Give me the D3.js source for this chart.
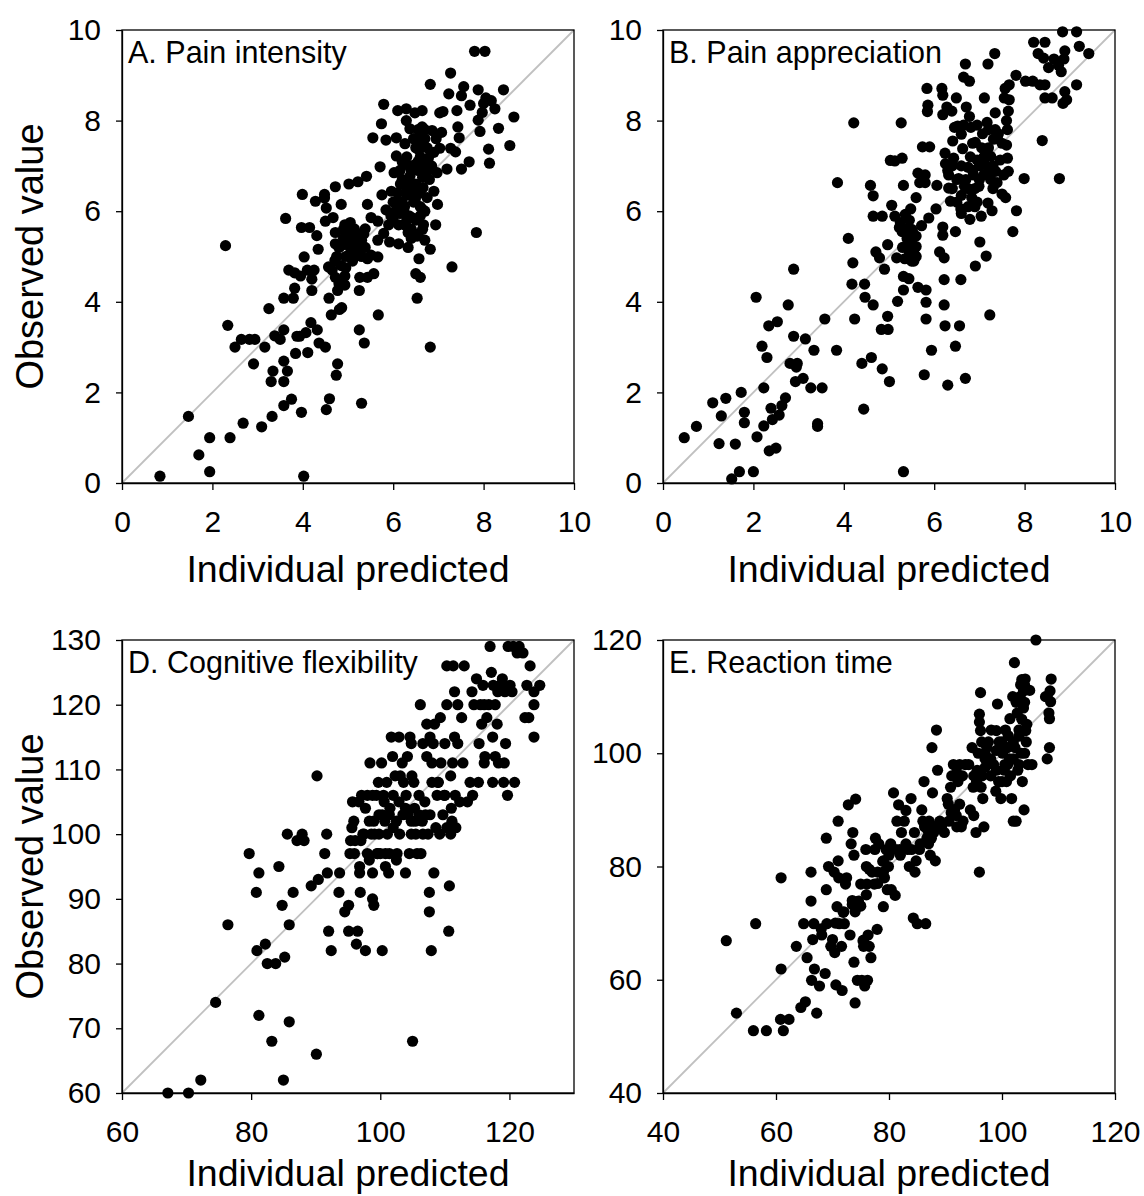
<!DOCTYPE html>
<html>
<head>
<meta charset="utf-8">
<script src="https://cdn.jsdelivr.net/npm/d3@7"></script>
<style>
  html, body { margin: 0; padding: 0; background: #fff; }
  svg text { font-family: "Liberation Sans", Arial, sans-serif; fill: #000; }
</style>
</head>
<body>
<svg id="chart" width="1144" height="1196"></svg>
<script>
// ---------------- DATA ----------------
const titles = ["A. Pain intensity", "B. Pain appreciation", "D. Cognitive flexibility", "E. Reaction time"];
const xAxisTitle = "Individual predicted";
const yAxisTitle = "Observed value";

const domainA = [0, 10], domainB = [0, 10], domainD = [60, 130], domainE = [40, 120];
const xTicksA = [0, 2, 4, 6, 8, 10], yTicksA = [0, 2, 4, 6, 8, 10];
const xTicksB = [0, 2, 4, 6, 8, 10], yTicksB = [0, 2, 4, 6, 8, 10];
const xTicksD = [60, 80, 100, 120], yTicksD = [60, 70, 80, 90, 100, 110, 120, 130];
const xTicksE = [40, 60, 80, 100, 120], yTicksE = [40, 60, 80, 100, 120];

// [individual predicted, observed]
const painIntensity = [
[0.84,0.15],[1.47,1.47],[1.70,0.62],[1.94,1.0],[1.94,0.25],[2.39,1.0],[2.29,5.24],[2.34,3.48],[2.5,3.0],[2.64,3.17],
[2.68,1.32],[2.82,3.17],[2.94,3.17],[2.91,2.63],[3.09,1.24],[3.16,3.0],[3.25,3.85],[3.34,2.47],[3.3,2.24],[3.32,1.47],
[3.38,3.25],[3.5,3.17],[3.58,3.38],[3.58,2.69],[3.58,2.24],[3.58,1.71],[3.66,2.47],[3.75,1.85],[3.62,5.84],[3.58,4.08],
[3.69,4.7],[3.82,4.3],[3.82,4.64],[3.79,4.08],[3.84,2.86],[3.87,3.24],[3.97,1.56],[3.99,6.37],[3.97,5.64],[4.03,4.99],
[4.02,0.15],[3.95,4.57],[3.93,3.24],[4.07,3.32],[4.11,2.88],[4.15,5.64],[4.1,4.7],[4.2,4.25],[4.2,4.5],[4.25,4.7],
[4.18,3.54],[4.31,5.46],[4.34,5.16],[4.28,6.22],[4.32,3.38],[4.36,3.09],[4.48,6.29],[4.5,3.0],[4.52,6.07],[4.5,5.78],
[4.48,6.37],[4.52,1.62],[4.59,1.86],[4.57,4.77],[4.58,4.08],[4.63,3.71],[4.67,5.86],[4.72,6.54],[4.72,5.53],[4.72,5.28],
[4.71,4.91],[4.72,4.54],[4.77,4.25],[4.77,2.63],[4.74,2.38],[4.81,3.83],[4.85,6.15],[4.86,3.87],[4.93,4.57],[4.93,4.37],
[4.85,5.24],[4.93,5.7],[4.98,5.36],[5.02,5.03],[5.02,6.6],[5.06,5.53],[5.1,4.95],[5.1,5.36],[5.14,5.61],[5.18,5.21],
[5.22,6.65],[5.25,4.25],[5.25,3.38],[5.26,4.54],[5.3,1.76],[5.36,3.09],[5.3,5.36],[5.38,5.2],[5.38,5.61],[5.41,6.77],
[5.43,6.15],[5.43,4.95],[5.43,4.54],[5.51,5.86],[5.51,5.03],[5.57,4.62],[5.55,7.62],[5.66,5.36],[5.66,4.99],[5.67,3.71],
[5.66,5.78],[5.71,6.98],[5.74,7.93],[5.75,6.36],[5.79,8.36],[5.84,7.57],[5.79,5.51],[5.84,6.03],[5.92,5.32],[5.96,6.44],
[6.0,5.86],[6.02,6.85],[6.07,7.22],[6.07,7.62],[6.1,8.22],[6.08,6.19],[6.12,5.7],[6.12,5.28],[6.16,6.6],[6.2,7.09],
[6.23,6.03],[6.26,7.49],[6.29,8.26],[6.29,8.0],[6.31,6.36],[6.33,5.53],[6.37,7.82],[6.37,6.77],[6.33,5.2],[6.41,5.86],
[6.45,7.01],[6.48,8.17],[6.49,6.27],[6.53,5.45],[6.57,7.35],[6.57,4.95],[6.6,4.54],[6.53,4.08],[6.5,4.62],[6.64,7.86],
[6.64,8.22],[6.66,6.52],[6.66,6.03],[6.67,5.7],[6.7,5.36],[6.74,6.85],[6.78,7.18],[6.82,8.8],[6.82,5.16],[6.82,3.0],
[6.86,7.78],[6.9,6.44],[6.94,5.7],[6.97,6.85],[6.98,6.15],[7.03,8.17],[7.03,7.39],[7.07,7.74],[7.19,6.93],[7.23,8.59],
[7.27,9.05],[7.27,7.39],[7.3,4.77],[7.38,7.31],[7.41,8.22],[7.43,7.86],[7.46,7.62],[7.51,6.93],[7.51,8.55],[7.56,8.75],
[7.68,7.09],[7.7,8.34],[7.84,5.53],[7.8,9.53],[8.03,9.53],[7.88,8.68],[7.88,8.01],[7.92,7.76],[7.97,8.18],[8.0,8.38],
[8.05,8.5],[8.11,7.37],[8.13,7.06],[8.17,8.44],[8.25,8.26],[8.33,7.83],[8.44,8.68],[8.58,7.45],[8.67,8.08],
[6.45,6.2],[6.5,6.6],[6.55,6.9],[6.6,7.2],[6.62,7.5],[6.7,6.0],[6.75,6.3],[6.8,6.7],[6.5,5.8],[6.4,5.6],
[6.3,6.5],[6.2,6.7],[6.35,5.9],[6.6,6.4],[6.85,7.0],[6.9,7.3],[6.7,7.6],[6.55,5.5],[6.65,5.6],[6.25,6.1],
[5.95,5.9],[6.0,6.2],[5.9,5.7],[6.15,5.95],[4.9,5.4],[5.0,5.5],[5.05,5.2],[5.15,5.4],[5.2,5.5],[4.95,5.0],
[5.25,5.3],[4.85,4.8],[5.1,4.9],[6.45,7.6],[6.55,7.8],[6.75,7.4],[6.95,7.6],[7.1,8.2],[6.4,6.9],[6.3,7.2],
[6.1,6.4],[6.2,6.2],[6.3,5.8],[6.35,6.6],[6.45,6.45],[6.6,6.1],[6.65,6.75],[6.7,7.0],[6.55,7.1],[6.5,7.4],
[6.6,7.65],[6.7,7.8],[6.35,7.0],[6.15,6.9],[6.05,6.0],[6.25,5.7],[6.4,5.4],[6.6,5.9],[4.8,5.2],[4.75,5.0],
[4.9,5.6],[5.05,5.75],[5.2,5.1],[5.3,5.0],[4.65,4.7],[4.8,4.4],[5.35,5.5],[4.95,4.75]
];

const painAppreciation = [
[0.47,1.0],[0.74,1.25],[1.1,1.77],[1.24,0.87],[1.29,1.48],[1.39,1.87],[1.52,0.09],[1.6,0.86],[1.69,0.25],[1.73,2.0],
[1.8,1.56],[1.8,1.33],[2.0,0.25],[2.06,4.1],[2.08,1.02],[2.19,3.02],[2.23,2.1],[2.23,1.26],[2.3,2.77],[2.34,3.47],
[2.35,0.71],[2.39,1.65],[2.42,1.4],[2.5,0.77],[2.53,3.56],[2.57,1.5],[2.63,1.71],[2.71,1.88],[2.77,3.93],[2.81,2.64],
[2.89,3.24],[2.89,4.72],[2.93,2.24],[2.95,2.56],[2.97,2.64],[3.1,2.31],[3.15,3.18],[3.27,2.1],[3.34,2.93],[3.42,1.31],
[3.42,1.25],[3.52,2.1],[3.58,3.62],[3.84,2.93],[3.86,6.63],[4.1,5.4],[4.18,4.39],[4.22,7.95],[4.2,4.86],[4.24,3.62],
[4.4,2.64],[4.46,4.39],[4.47,4.1],[4.44,1.63],[4.59,6.57],[4.61,2.77],[4.65,3.93],[4.65,6.34],[4.65,5.89],[4.71,5.1],
[4.79,4.97],[4.85,2.52],[4.85,5.89],[4.83,3.39],[4.9,4.72],[4.97,3.68],[4.98,3.39],[4.97,5.26],[5.01,2.24],[5.03,7.12],
[5.06,6.13],[5.13,5.89],[5.13,7.11],[5.17,4.97],[5.19,4.01],[5.23,5.64],[5.27,7.95],[5.29,7.17],[5.32,6.57],[5.32,4.56],
[5.32,4.26],[5.32,0.25],[5.29,5.55],[5.36,5.93],[5.41,5.22],[5.44,4.51],[5.44,4.97],[5.48,6.05],[5.52,5.55],[5.56,5.05],
[5.6,5.22],[5.6,6.3],[5.64,4.32],[5.64,6.84],[5.68,6.63],[5.72,5.68],[5.74,7.42],[5.8,6.8],[5.8,6.63],[5.78,2.39],
[5.82,4.26],[5.82,3.99],[5.82,3.62],[5.84,8.71],[5.86,8.34],[5.85,8.2],[5.9,7.42],[5.88,5.85],[5.94,2.93],[6.04,6.05],
[6.06,6.57],[6.12,5.1],[6.17,8.71],[6.19,8.56],[6.19,8.13],[6.19,5.65],[6.19,5.47],[6.22,4.97],[6.22,4.49],[6.22,3.93],
[6.24,3.47],[6.24,7.28],[6.25,7.05],[6.28,8.3],[6.3,2.16],[6.32,6.8],[6.32,6.51],[6.36,6.22],[6.39,8.21],[6.41,7.55],
[6.43,7.17],[6.47,5.55],[6.47,3.02],[6.49,8.5],[6.52,7.88],[6.54,6.72],[6.56,3.47],[6.59,4.49],[6.59,6.05],[6.63,7.38],
[6.65,8.96],[6.67,6.55],[6.69,9.25],[6.69,2.31],[6.71,8.3],[6.75,6.97],[6.78,8.87],[6.78,8.09],[6.79,5.82],[6.81,7.85],
[6.83,6.3],[6.87,6.8],[6.91,7.52],[6.91,4.79],[6.95,7.13],[6.99,6.55],[7.01,5.32],[7.04,5.89],[7.07,7.71],[7.11,8.5],
[7.11,7.05],[7.15,5.01],[7.17,7.96],[7.19,6.18],[7.19,9.25],[7.23,3.71],[7.25,7.21],[7.28,6.01],[7.31,7.59],[7.34,9.48],
[7.35,8.17],[7.36,6.88],[7.39,6.63],[7.42,7.71],[7.46,7.13],[7.5,6.38],[7.54,6.8],[7.57,8.71],[7.58,6.3],[7.6,7.46],
[7.62,7.8],[7.62,7.17],[7.64,8.21],[7.66,8.46],[7.66,8.79],[7.64,6.88],[7.74,5.55],[7.81,9.0],[7.82,6.01],[7.99,6.72],
[8.02,8.87],[8.2,9.73],[8.18,8.87],[8.3,9.48],[8.34,8.79],[8.39,7.56],[8.42,9.38],[8.45,8.79],[8.45,9.73],[8.45,8.5],
[8.53,9.17],[8.61,8.5],[8.65,9.36],[8.75,9.22],[8.77,6.72],[8.81,9.08],[8.84,9.96],[8.85,8.38],[8.87,9.36],[8.89,9.54],
[8.89,8.64],[8.93,8.46],[9.15,9.96],[9.15,8.79],[9.21,9.64],[9.42,9.48],
[5.45,5.1],[5.5,5.3],[5.35,5.6],[5.55,4.9],[6.6,7.0],[6.7,6.7],[6.8,7.2],[6.9,6.5],[7.0,7.0],[7.1,6.8],
[7.2,7.4],[6.95,6.2],[6.5,6.2],[6.4,6.5],[7.3,7.0],[7.4,7.6],[6.85,7.5],[7.05,7.4],[6.6,7.7],[7.25,6.7],
[5.3,5.2],[5.4,5.4],[5.5,5.6],[5.6,5.0],[5.35,4.95],[5.45,5.8],[5.25,5.75],[5.5,4.9],[5.6,5.45],[6.3,6.9],
[6.4,7.0],[6.5,6.7],[6.6,6.35],[6.75,6.5],[6.85,6.9],[7.0,6.7],[7.1,7.2],[7.2,6.9],[7.3,6.5],[6.9,6.1],
[6.75,6.1],[6.6,5.95],[7.5,7.5],[7.6,8.0],[7.55,8.5],[7.2,7.8],[7.35,7.8],[6.95,7.9],[6.65,7.9],[6.45,7.85]
];

const cognitiveFlexibility = [
[67.1,60],[70.3,60],[72.2,62],[74.5,74],[76.4,86],[79.7,97],[80.8,91],[80.9,82],[81.2,72],[81.2,94],
[82.2,83],[82.5,80],[83.2,68],[83.8,80],[84.3,95],[84.8,89],[85.0,62],[85.2,81],[85.6,100],[85.9,86],
[85.9,71],[86.5,91],[87.1,99],[87.9,100],[88.2,99],[89.3,92],[90.1,66],[90.2,109],[90.4,93],[91.4,97],
[91.7,100],[91.8,94],[92.0,85],[92.4,82],[93.6,91],[93.7,94],[94.5,88],[95.1,89],[95.1,85],[95.3,97],
[95.4,99],[95.6,101],[95.7,105],[95.9,102],[96.1,99],[96.3,83],[96.5,85],[96.7,105],[96.8,95],[96.8,94],
[96.9,91],[97.1,106],[97.3,100],[97.7,82],[97.7,104],[98.0,106],[98.3,102],[98.3,96],[98.6,100],[98.4,111],
[98.8,106],[98.8,90],[99.0,89],[98.8,94],[99.1,100],[99.4,106],[99.6,97],[99.7,108],[99.8,103],[99.8,100],
[100.0,97],[100.2,111],[100.3,82],[100.3,103],[100.6,105],[100.7,102],[100.8,97],[100.8,95],[101.1,100],[101.3,94],
[101.4,103],[101.4,97],[101.7,115],[101.9,112],[102.0,106],[102.0,101],[102.3,109],[102.5,96],[102.6,97],[102.9,105],
[102.9,115],[103.0,100],[103.1,109],[103.4,111],[103.6,108],[103.9,94],[103.9,104],[104.2,112],[104.3,103],[104.6,115],
[104.8,114],[104.8,100],[104.8,102],[104.9,109],[105.0,68],[105.2,108],[105.3,104],[105.4,102],[105.7,97],[106.0,103],
[106.2,120],[106.3,97],[106.5,102],[106.6,114],[106.6,100],[106.9,105],[107.2,112],[107.2,117],[107.4,100],[107.6,91],
[107.6,88],[107.7,115],[107.7,103],[107.9,82],[108.0,108],[108.2,114],[108.3,94],[108.4,117],[108.6,101],[108.8,106],
[108.9,108],[109.2,100],[109.3,118],[109.4,111],[109.7,103],[109.9,106],[110.0,114],[110.3,126],[110.3,120],[110.3,101],
[110.6,85],[110.7,92],[110.9,109],[110.9,100],[111.1,102],[111.2,111],[111.3,126],[111.5,122],[111.5,115],[111.6,106],
[111.7,101],[112.0,120],[112.0,114],[112.3,105],[112.6,118],[112.8,111],[113.0,126],[113.5,105],[113.9,108],[114.2,122],
[114.3,106],[114.5,120],[114.9,124],[115.2,108],[115.3,114],[115.5,120],[115.7,117],[115.9,123],[116.1,111],[116.1,120],
[116.2,112],[116.5,118],[116.8,120],[117.0,129],[117.2,125],[117.4,115],[117.4,108],[117.5,123],[117.8,112],[117.8,120],
[118.1,117],[118.2,122],[118.3,111],[118.6,123],[118.9,124],[119.1,108],[119.2,111],[119.3,122],[119.4,114],[119.7,106],
[119.8,129],[120.1,123],[120.4,122],[120.6,129],[120.8,108],[121.2,128],[121.5,129],[122.1,128],[122.4,118],[122.7,123],
[123.0,118],[123.2,126],[123.8,122],[123.8,120],[123.8,115],[124.7,123],
[97.5,100],[99.0,102],[100.5,106],[101.5,104],[103.5,103],[104.0,106],[105.5,100],[106.0,106],[98.0,97],[99.5,97],
[101.0,108],[102.5,102],[108.0,111],[109.0,108],[110.0,106],[111.0,104],[96.0,97],[97.0,99],[104.5,97],[107.0,103]
];

const reactionTime = [
[51.2,66.9],[53.0,54.1],[56.0,51.0],[56.4,69.9],[58.3,51.0],[60.8,53.0],[60.9,78.0],[60.9,61.9],[61.3,51.0],[62.3,53.0],
[63.6,65.9],[64.4,55.1],[64.9,69.9],[65.2,56.1],[65.5,63.9],[66.2,73.9],[66.2,79.0],[66.3,59.9],[66.5,67.1],[66.7,69.9],
[66.8,61.9],[67.2,54.1],[67.7,58.9],[68.1,67.9],[68.7,61.1],[68.9,85.0],[68.9,75.9],[69.0,69.9],[69.3,80.0],[69.7,65.9],
[70.0,67.1],[70.3,79.0],[70.4,64.8],[70.6,59.1],[70.8,72.9],[71.0,81.0],[71.0,88.0],[71.1,78.0],[71.2,69.9],[71.6,65.9],
[71.7,58.1],[71.9,71.9],[72.1,69.9],[72.3,76.9],[72.5,78.0],[72.8,90.9],[73.1,67.9],[73.3,84.0],[73.5,73.3],[73.6,86.0],
[73.8,63.1],[74.0,55.9],[74.1,91.9],[73.8,82.0],[74.4,59.9],[74.6,73.9],[74.9,73.1],[75.0,76.9],[75.2,59.9],[75.4,66.9],
[75.5,65.9],[75.7,58.9],[75.9,83.0],[76.0,80.0],[76.1,76.9],[76.2,59.9],[76.3,67.9],[76.5,65.9],[76.8,63.9],[77.0,79.0],
[77.4,76.9],[77.6,85.0],[77.9,68.9],[78.0,79.0],[78.2,84.0],[78.9,80.9],[79.0,72.9],[79.2,78.0],[79.5,83.0],[79.7,75.9],
[79.9,80.0],[80.3,84.0],[80.4,75.9],[80.8,93.0],[81.1,74.9],[81.2,83.0],[81.4,88.0],[81.7,90.9],[81.9,83.0],[82.2,86.0],
[82.7,88.0],[83.0,89.9],[83.3,83.0],[83.6,80.0],[83.9,92.0],[84.3,70.9],[84.6,79.0],[84.8,81.0],[85.0,69.9],[85.4,83.0],
[85.8,90.0],[86.2,95.0],[86.3,87.0],[86.5,69.9],[86.7,85.0],[87.0,84.0],[87.1,88.0],[87.3,82.0],[87.6,101.0],[87.7,93.0],
[87.9,86.0],[88.2,81.0],[88.4,104.1],[88.6,97.0],[89.3,87.0],[89.8,86.0],[90.3,92.0],[90.6,88.0],[90.9,94.0],[91.1,96.0],
[91.4,98.0],[91.6,90.0],[91.9,89.0],[92.0,87.0],[92.2,95.0],[92.5,98.0],[92.8,87.0],[93.1,88.0],[93.5,98.0],[94.1,98.0],
[94.4,90.0],[94.7,101.0],[94.9,94.0],[95.0,89.0],[95.4,86.0],[95.6,97.0],[95.8,100.0],[96.0,106.9],[96.0,79.0],[96.2,110.7],
[96.3,94.0],[96.4,102.0],[96.6,92.0],[96.8,87.0],[97.0,99.0],[97.3,101.0],[97.6,102.0],[98.1,104.1],[98.5,98.0],[98.9,93.3],
[99.2,108.7],[99.4,95.0],[99.5,102.0],[99.8,92.0],[100.1,100.0],[100.4,97.0],[100.6,104.1],[100.8,95.0],[101.1,103.1],[101.3,99.0],
[101.4,106.1],[101.7,92.0],[101.9,110.0],[102.0,88.0],[102.2,116.0],[102.3,101.0],[102.5,88.0],[102.7,107.1],[102.8,97.0],[103.0,104.1],
[103.2,110.0],[103.3,112.1],[103.4,100.0],[103.6,95.0],[103.8,108.0],[103.9,90.0],[104.1,113.1],[104.3,102.0],[104.4,105.1],[104.6,98.0],
[104.9,111.1],[105.3,98.0],[106.0,120.0],[107.7,110.0],[108.0,99.0],[108.3,107.1],[108.4,101.0],[108.6,109.1],[108.7,113.1],[108.4,106.1],
[96.0,105.5],[96.2,104.0],[97.0,100.0],[98.0,96.0],[99.0,97.0],[100.0,95.0],[101.0,101.0],[102.0,99.0],[103.5,106.0],[104.0,109.0],
[103.8,111.0],[104.2,104.0],[100.5,98.0],[99.0,100.5],[95.0,96.0],[92.0,96.5],[90.5,91.0],[87.5,85.0],[86.0,88.0],[84.5,86.0],
[77.5,83.0],[76.5,79.5],[79.0,81.0],[72.0,72.0],[70.5,70.0],[68.0,69.0],[73.5,74.0],[75.5,67.0],[108.5,111.0],[108.0,110.0],
[101.0,98.0],[102.0,102.0],[103.0,103.0],[104.0,100.0],[103.0,98.0],[101.5,96.0],[100.0,102.0],[99.0,104.0],[102.5,109.0],[103.5,113.0],
[104.0,112.0],[100.0,101.0],[98.0,99.0],[97.0,97.5],[96.5,96.0],[95.5,95.0],[93.0,96.0],[92.5,91.0],[91.0,89.5],[89.0,88.0],
[88.0,87.0],[87.0,86.0],[85.5,84.0],[84.0,83.0],[83.0,84.0],[82.0,82.0],[80.0,82.0],[79.0,79.0],[78.0,77.0],[76.0,75.0],
[75.0,73.0],[74.0,72.0]
];

// ---------------- DRAW ----------------
const svg = d3.select("#chart");
const panels = [
  {data: painIntensity, title: titles[0], domain: domainA, xt: xTicksA, yt: yTicksA, x0: 122, y0: 30, tb: 99},
  {data: painAppreciation, title: titles[1], domain: domainB, xt: xTicksB, yt: yTicksB, x0: 663, y0: 30, tb: 99},
  {data: cognitiveFlexibility, title: titles[2], domain: domainD, xt: xTicksD, yt: yTicksD, x0: 122, y0: 640, tb: 93},
  {data: reactionTime, title: titles[3], domain: domainE, xt: xTicksE, yt: yTicksE, x0: 663, y0: 640, tb: 93}
];
const W = 452, H = 453;

panels.forEach(p => {
  const g = svg.append("g").attr("transform", `translate(${p.x0},${p.y0})`);
  const x = d3.scaleLinear().domain(p.domain).range([0, W]);
  const y = d3.scaleLinear().domain(p.domain).range([H, 0]);

  // diagonal identity line
  g.append("line")
    .attr("x1", x(p.domain[0])).attr("y1", y(p.domain[0]))
    .attr("x2", x(p.domain[1])).attr("y2", y(p.domain[1]))
    .attr("stroke", "#c0c0c0").attr("stroke-width", 1.8);

  // points
  g.append("g").selectAll("circle").data(p.data).join("circle")
    .attr("cx", d => x(d[0])).attr("cy", d => y(d[1]))
    .attr("r", 5.6).attr("fill", "#000");

  // frame
  g.append("rect").attr("x", 0).attr("y", 0).attr("width", W).attr("height", H)
    .attr("fill", "none").attr("stroke", "#000").attr("stroke-width", 1.3);

  const xa = g.append("g").attr("transform", `translate(0,${H})`)
    .call(d3.axisBottom(x).tickValues(p.xt).tickSize(7).tickSizeOuter(0).tickPadding(21).tickFormat(d3.format("d")));
  const ya = g.append("g")
    .call(d3.axisLeft(y).tickValues(p.yt).tickSize(6).tickSizeOuter(0).tickPadding(15).tickFormat(d3.format("d")));
  [xa, ya].forEach(a => {
    a.select(".domain").attr("stroke", "#000").attr("stroke-width", 1.3);
    a.selectAll(".tick line").attr("stroke", "#000").attr("stroke-width", 1.3);
    a.selectAll("text").attr("font-size", 30).attr("font-family", "Liberation Sans, Arial, sans-serif").attr("fill", "#000");
  });

  // panel title
  g.append("text").attr("x", 6).attr("y", 33).attr("font-size", 30.5).text(p.title);

  // axis titles
  g.append("text").attr("x", W / 2).attr("y", H + p.tb).attr("text-anchor", "middle")
    .attr("font-size", 37.5).text(xAxisTitle);
  if (p.x0 < 400) {
    g.append("text").attr("transform", `translate(${-p.x0 + 43},${H / 2}) rotate(-90)`)
      .attr("text-anchor", "middle").attr("font-size", 38).text(yAxisTitle);
  }
});
</script>
</body>
</html>
